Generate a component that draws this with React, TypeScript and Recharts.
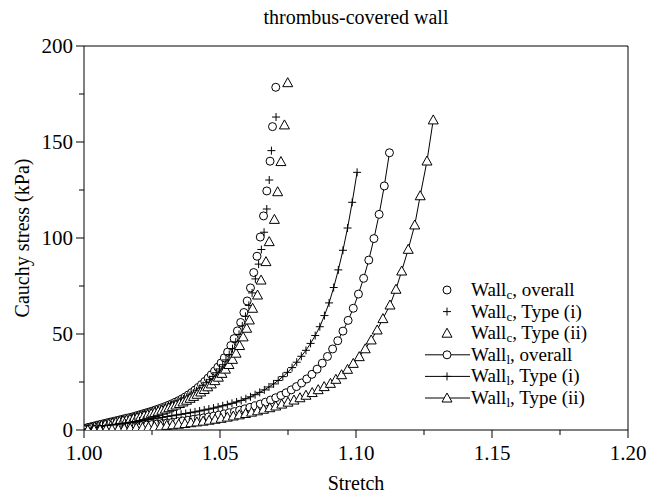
import { ScatterChart, Scatter, XAxis, YAxis, ReferenceLine, Legend } from 'recharts';

// [stretch, Cauchy stress (kPa)]
const wallCOverall: [number, number][] = [
  [1.0, 0.8], [1.0012, 1.2], [1.0024, 1.6], [1.0036, 2.0], [1.0048, 2.5], [1.006, 2.9], [1.0072, 3.3], [1.0084, 3.7],
  [1.0096, 4.1], [1.0108, 4.5], [1.012, 4.9], [1.0132, 5.3], [1.0144, 5.7], [1.0156, 6.1], [1.0168, 6.5], [1.018, 6.9],
  [1.0192, 7.4], [1.0204, 7.9], [1.0216, 8.4], [1.0228, 8.9], [1.024, 9.4], [1.0252, 9.9], [1.0264, 10.5], [1.0276, 11.1],
  [1.0288, 11.7], [1.03, 12.3], [1.0312, 13.0], [1.0324, 13.7], [1.0336, 14.5], [1.0348, 15.3], [1.036, 16.2], [1.0372, 17.2],
  [1.0384, 18.3], [1.0396, 19.5], [1.0408, 20.8], [1.042, 22.2], [1.0432, 23.7], [1.0444, 25.3], [1.0456, 27.0], [1.0468, 28.8],
  [1.048, 30.7], [1.0492, 32.7], [1.0504, 34.9], [1.0516, 37.6], [1.0528, 40.6], [1.054, 44.0], [1.0552, 47.6], [1.0564, 51.6],
  [1.0576, 56.0], [1.0588, 61.2], [1.06, 67.2], [1.0612, 74.0], [1.0624, 82.0], [1.0636, 90.5], [1.0648, 100.5], [1.066, 111.5],
  [1.0672, 124.5], [1.0684, 140.0], [1.0693, 158.0], [1.0705, 178.5],
];

const wallCTypeI: [number, number][] = [
  [1.0006, 0.8], [1.0018, 1.2], [1.003, 1.6], [1.0042, 2.0], [1.0054, 2.4], [1.0066, 2.8], [1.0078, 3.2], [1.009, 3.6],
  [1.0102, 4.0], [1.0114, 4.4], [1.0126, 4.8], [1.0138, 5.2], [1.015, 5.6], [1.0162, 6.0], [1.0174, 6.4], [1.0186, 6.8],
  [1.0198, 7.3], [1.021, 7.8], [1.0222, 8.3], [1.0234, 8.8], [1.0246, 9.3], [1.0258, 9.8], [1.027, 10.4], [1.0282, 11.0],
  [1.0294, 11.6], [1.0306, 12.2], [1.0318, 12.9], [1.033, 13.6], [1.0342, 14.4], [1.0354, 15.2], [1.0366, 16.1], [1.0378, 17.1],
  [1.039, 18.1], [1.0402, 19.2], [1.0414, 20.4], [1.0426, 21.7], [1.0438, 23.1], [1.045, 24.6], [1.0462, 26.2], [1.0474, 27.9],
  [1.0486, 29.8], [1.0498, 31.8], [1.051, 34.0], [1.0522, 36.5], [1.0534, 39.3], [1.0546, 42.4], [1.0558, 45.9], [1.057, 49.8],
  [1.0582, 54.2], [1.0594, 59.2], [1.0606, 64.9], [1.0618, 71.4], [1.063, 78.7], [1.0642, 86.4], [1.0652, 94.0], [1.0662, 103.0],
  [1.0672, 115.1], [1.0681, 130.2], [1.0689, 145.5], [1.0706, 163.0],
];

const wallCTypeII: [number, number][] = [
  [1.0, 0.4], [1.0013, 0.8], [1.0026, 1.2], [1.0039, 1.6], [1.0052, 2.0], [1.0065, 2.4], [1.0078, 2.8], [1.0091, 3.2],
  [1.0104, 3.6], [1.0117, 4.0], [1.013, 4.4], [1.0143, 4.8], [1.0156, 5.2], [1.0169, 5.6], [1.0182, 6.0], [1.0195, 6.5],
  [1.0208, 7.0], [1.0221, 7.5], [1.0234, 8.0], [1.0247, 8.5], [1.026, 9.1], [1.0273, 9.7], [1.0286, 10.3], [1.0299, 10.9],
  [1.0312, 11.6], [1.0325, 12.3], [1.0338, 13.0], [1.0351, 13.8], [1.0364, 14.6], [1.0377, 15.5], [1.039, 16.5], [1.0403, 17.5],
  [1.0416, 18.6], [1.0429, 19.8], [1.0442, 21.1], [1.0455, 22.5], [1.0468, 24.0], [1.0481, 25.7], [1.0494, 27.5], [1.0507, 29.5],
  [1.052, 31.7], [1.0533, 34.1], [1.0546, 36.8], [1.0559, 40.0], [1.0572, 44.0], [1.0585, 48.5], [1.0598, 53.0], [1.0608, 57.3],
  [1.062, 63.4], [1.0638, 70.3], [1.0651, 78.1], [1.0669, 87.7], [1.0681, 98.1], [1.07, 109.7], [1.0712, 124.1], [1.0724, 139.8],
  [1.0737, 158.9], [1.0749, 180.9],
];

const wallLOverall: [number, number][] = [
  [1.0002, 0.1], [1.0021, 0.2], [1.004, 0.3], [1.0059, 0.5], [1.0078, 0.6], [1.0097, 0.8], [1.0116, 1.0], [1.0135, 1.2],
  [1.0154, 1.5], [1.0173, 1.7], [1.0192, 2.0], [1.0211, 2.2], [1.023, 2.5], [1.0249, 2.8], [1.0268, 3.1], [1.0287, 3.4],
  [1.0306, 3.7], [1.0325, 4.0], [1.0344, 4.4], [1.0363, 4.7], [1.0382, 5.1], [1.0401, 5.5], [1.042, 5.9], [1.0439, 6.3],
  [1.0458, 6.8], [1.0477, 7.3], [1.0496, 7.8], [1.0515, 8.4], [1.0534, 9.0], [1.0553, 9.6], [1.0572, 10.3], [1.0591, 11.0],
  [1.061, 11.8], [1.0629, 12.6], [1.0648, 13.5], [1.0667, 14.5], [1.0686, 15.6], [1.0705, 16.8], [1.0724, 18.0], [1.0743, 19.4],
  [1.0762, 20.9], [1.0781, 22.6], [1.08, 24.5], [1.0819, 26.6], [1.0838, 29.0], [1.0857, 31.7], [1.0876, 34.8], [1.0895, 38.3],
  [1.0914, 42.2], [1.0933, 46.5], [1.0952, 51.5], [1.0971, 57.1], [1.099, 63.4], [1.1009, 70.8], [1.1028, 79.0], [1.1047, 88.5],
  [1.1066, 99.7], [1.1085, 112.3], [1.1104, 127.1], [1.1123, 144.4],
];

const wallLTypeI: [number, number][] = [
  [1.0, 0.3], [1.0017, 0.7], [1.0034, 1.1], [1.0051, 1.5], [1.0068, 1.9], [1.0085, 2.3], [1.0102, 2.6], [1.0119, 3.0],
  [1.0136, 3.3], [1.0153, 3.7], [1.017, 4.0], [1.0187, 4.4], [1.0204, 4.7], [1.0221, 5.1], [1.0238, 5.4], [1.0255, 5.8],
  [1.0272, 6.2], [1.0289, 6.6], [1.0306, 7.0], [1.0323, 7.4], [1.034, 7.8], [1.0357, 8.2], [1.0374, 8.6], [1.0391, 9.0],
  [1.0408, 9.4], [1.0425, 9.9], [1.0442, 10.4], [1.0459, 10.9], [1.0476, 11.4], [1.0493, 12.0], [1.051, 12.6], [1.0527, 13.2],
  [1.0544, 13.9], [1.0561, 14.6], [1.0578, 15.4], [1.0595, 16.3], [1.0612, 17.3], [1.0629, 18.4], [1.0646, 19.6], [1.0663, 20.9],
  [1.068, 22.4], [1.0697, 24.0], [1.0714, 25.8], [1.0731, 27.8], [1.0748, 30.0], [1.0765, 32.5], [1.0782, 35.3], [1.0799, 38.4],
  [1.0816, 41.5], [1.0833, 45.1], [1.085, 49.2], [1.0867, 53.8], [1.0884, 59.6], [1.0901, 66.2], [1.0918, 74.2], [1.0935, 83.4],
  [1.0952, 93.6], [1.0969, 105.2], [1.0986, 118.6], [1.1004, 134.2],
];

const wallLTypeII: [number, number][] = [
  [1.0014, 0.0], [1.0037, 0.1], [1.0059, 0.2], [1.0081, 0.3], [1.0103, 0.4], [1.0126, 0.5], [1.0148, 0.7], [1.017, 0.9],
  [1.0192, 1.1], [1.0215, 1.3], [1.0237, 1.5], [1.0259, 1.8], [1.0282, 2.1], [1.0304, 2.4], [1.0326, 2.7], [1.0348, 3.0],
  [1.0371, 3.4], [1.0393, 3.8], [1.0415, 4.2], [1.0438, 4.6], [1.046, 5.1], [1.0482, 5.6], [1.0504, 6.1], [1.0527, 6.7],
  [1.0549, 7.3], [1.0571, 7.9], [1.0594, 8.6], [1.0616, 9.3], [1.0638, 10.0], [1.066, 10.8], [1.0683, 11.6], [1.0705, 12.5],
  [1.0727, 13.5], [1.075, 14.5], [1.0772, 15.6], [1.0794, 16.8], [1.0816, 18.1], [1.0839, 19.5], [1.0861, 21.0], [1.0883, 22.6],
  [1.0906, 24.3], [1.0926, 26.4], [1.0947, 28.8], [1.0969, 31.6], [1.099, 34.7], [1.1012, 38.2], [1.1034, 42.3], [1.1056, 46.9],
  [1.1078, 52.1], [1.1099, 58.0], [1.1125, 65.1], [1.1147, 73.3], [1.1168, 82.8], [1.1192, 94.1], [1.1216, 106.8], [1.1236, 122.0],
  [1.1261, 140.1], [1.1284, 161.5],
];

const xTicks = [1.0, 1.025, 1.05, 1.075, 1.1, 1.125, 1.15, 1.175, 1.2];
const yTicks = [0, 25, 50, 75, 100, 125, 150, 175, 200];

const FONT = '"Liberation Serif", "DejaVu Serif", "Times New Roman", Times, serif';

const toPoints = (rows: [number, number][]) => rows.map(([x, y]) => ({ x, y }));

const CircleMark = ({ cx, cy }: any) => (
  <circle cx={cx} cy={cy} r={4} fill="#fff" stroke="#000" strokeWidth={1} />
);
const PlusMark = ({ cx, cy }: any) => (
  <path d={`M${cx - 4},${cy}H${cx + 4}M${cx},${cy - 4}V${cy + 4}`} stroke="#000" strokeWidth={1} fill="none" />
);
const TriangleMark = ({ cx, cy }: any) => (
  <path d={`M${cx},${cy - 5}L${cx + 5},${cy + 4}L${cx - 5},${cy + 4}Z`} fill="#fff" stroke="#000" strokeWidth={1} />
);

const series = [
  { name: 'overall', sub: 'c', rows: wallCOverall, Mark: CircleMark, line: false },
  { name: 'Type (i)', sub: 'c', rows: wallCTypeI, Mark: PlusMark, line: false },
  { name: 'Type (ii)', sub: 'c', rows: wallCTypeII, Mark: TriangleMark, line: false },
  { name: 'overall', sub: 'l', rows: wallLOverall, Mark: CircleMark, line: true },
  { name: 'Type (i)', sub: 'l', rows: wallLTypeI, Mark: PlusMark, line: true },
  { name: 'Type (ii)', sub: 'l', rows: wallLTypeII, Mark: TriangleMark, line: true },
];

const XTick = ({ x, y, payload }: any) => {
  const v = payload.value as number;
  const major = Math.round(v * 1000) % 50 === 0;
  return (
    <g>
      <line x1={x} y1={y} x2={x} y2={y + (major ? 8 : 5)} stroke="#000" />
      {major && (
        <text x={x} y={y + 30} textAnchor="middle" fontSize={21} fontFamily={FONT} fill="#000">
          {v.toFixed(2)}
        </text>
      )}
    </g>
  );
};

const YTick = ({ x, y, payload }: any) => {
  const v = payload.value as number;
  const major = v % 50 === 0;
  return (
    <g>
      <line x1={x - (major ? 8 : 5)} y1={y} x2={x} y2={y} stroke="#000" />
      {major && (
        <text x={x - 11} y={y + 7} textAnchor="end" fontSize={21} fontFamily={FONT} fill="#000">
          {v}
        </text>
      )}
    </g>
  );
};

const LegendBox = () => (
  <svg width={220} height={140} style={{ overflow: 'visible' }}>
    {series.map((s, i) => {
      const cy = 12 + i * 21.6;
      const Mark = s.Mark;
      return (
        <g key={i}>
          {s.line && <line x1={5} x2={50} y1={cy} y2={cy} stroke="#000" strokeWidth={1} />}
          <Mark cx={27} cy={cy} />
          <text x={51} y={cy + 6} fontSize={19} fontFamily={FONT} fill="#000">
            Wall
            <tspan fontSize={13} dy={3}>{s.sub}</tspan>
            <tspan dy={-3}>, {s.name}</tspan>
          </text>
        </g>
      );
    })}
  </svg>
);

export default function App() {
  return (
    <div style={{ position: 'absolute', left: 0, top: 0, width: 647, height: 500, background: '#fff', fontFamily: FONT }}>
      <div style={{ position: 'absolute', left: 84, width: 544, top: 6, textAlign: 'center', fontSize: 20, color: '#000' }}>
        thrombus-covered wall
      </div>
      <div style={{ position: 'absolute', left: 84, width: 544, top: 472, textAlign: 'center', fontSize: 20, color: '#000' }}>
        Stretch
      </div>
      <div
        style={{
          position: 'absolute',
          left: 22,
          top: 238,
          transform: 'translate(-50%, -50%) rotate(-90deg)',
          whiteSpace: 'nowrap',
          fontSize: 20,
          color: '#000',
        }}
      >
        Cauchy stress (kPa)
      </div>
      <ScatterChart width={647} height={500} margin={{ top: 46, right: 19, bottom: 40, left: 24 }}>
        <XAxis
          type="number"
          dataKey="x"
          domain={[1, 1.2]}
          ticks={xTicks}
          interval={0}
          allowDataOverflow
          height={30}
          tickSize={0}
          tickMargin={0}
          tickLine={false}
          axisLine={{ stroke: '#000' }}
          tick={<XTick />}
        />
        <YAxis
          type="number"
          dataKey="y"
          domain={[0, 200]}
          ticks={yTicks}
          interval={0}
          allowDataOverflow
          width={60}
          tickSize={0}
          tickMargin={0}
          tickLine={false}
          axisLine={{ stroke: '#000' }}
          tick={<YTick />}
        />
        <ReferenceLine y={200} stroke="#000" />
        <ReferenceLine x={1.2} stroke="#000" />
        {series.map((s, i) => (
          <Scatter
            key={i}
            name={`Wall${s.sub} ${s.name}`}
            data={toPoints(s.rows)}
            shape={s.Mark}
            line={s.line ? { stroke: '#000', strokeWidth: 1 } : false}
            isAnimationActive={false}
          />
        ))}
        <Legend
          layout="horizontal"
          verticalAlign="middle"
          align="center"
          wrapperStyle={{ position: 'absolute', left: 420, top: 278, width: 220, height: 140 }}
          content={() => <LegendBox />}
        />
      </ScatterChart>
    </div>
  );
}
